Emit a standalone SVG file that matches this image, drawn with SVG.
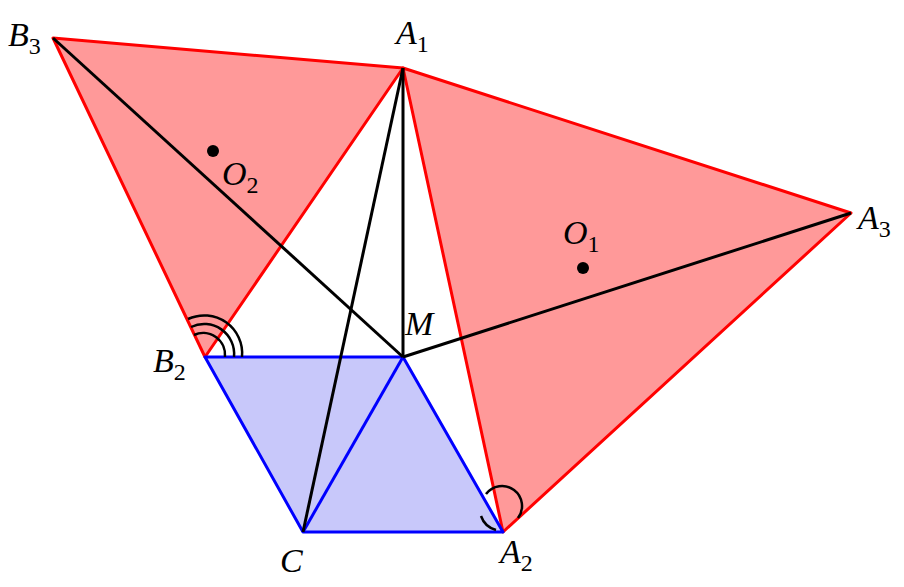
<svg xmlns="http://www.w3.org/2000/svg" width="904" height="587" viewBox="0 0 904 587">
<style>
.red{fill:#ff9999;stroke:#ff0000;stroke-width:3;stroke-linejoin:round}
.blue{fill:#c8c8fa;stroke:#0000ff;stroke-width:3;stroke-linejoin:round}
.bl{stroke:#000;stroke-width:3;fill:none}
.arc{stroke:#000;stroke-width:2.5;fill:none}
text{font-family:"Liberation Serif",serif;font-style:italic;font-size:34px;fill:#000}
.s{font-size:24px;font-style:normal}
</style>
<rect width="904" height="587" fill="#fff"/>
<g id="tri2"><polygon class="red" points="53,38 403,68 205,357"/></g>
<g id="tri1"><polygon class="red" points="403,68 851,213 503,532"/></g>
<g id="quad"><polygon class="blue" points="205,357 403,357 503,532 303,532"/><line x1="303" y1="532" x2="403" y2="357" stroke="#0000ff" stroke-width="3"/></g>
<g id="connectors">
<line class="bl" x1="53" y1="38" x2="403" y2="357"/>
<line class="bl" x1="851" y1="213" x2="403" y2="357"/>
<line class="bl" x1="403" y1="68" x2="403" y2="357"/>
<line class="bl" x1="403" y1="68" x2="303" y2="532"/>
<path class="arc" d="M194,335 A22,22 0 0 1 225,357"/>
<path class="arc" d="M191,327 A30,30 0 0 1 234,357"/>
<path class="arc" d="M188,319 A38,38 0 0 1 242,357"/>
<path class="arc" d="M486,494 A18,18 0 1 1 518,518"/>
<path class="arc" d="M481,516 A22,22 0 0 0 496,530"/>
</g>
<g id="points"><circle cx="213" cy="151" r="6"/><circle cx="583" cy="268" r="6"/></g>
<g id="labels">
<text x="8" y="46">B<tspan class="s" dy="8">3</tspan></text>
<text x="396" y="44">A<tspan class="s" dy="8">1</tspan></text>
<text x="858" y="229">A<tspan class="s" dy="8">3</tspan></text>
<text x="222" y="185">O<tspan class="s" dy="8">2</tspan></text>
<text x="563" y="244">O<tspan class="s" dy="8">1</tspan></text>
<text x="405" y="335">M</text>
<text x="153" y="372">B<tspan class="s" dy="8">2</tspan></text>
<text x="280" y="572">C</text>
<text x="500" y="563">A<tspan class="s" dy="8">2</tspan></text>
</g>
</svg>
